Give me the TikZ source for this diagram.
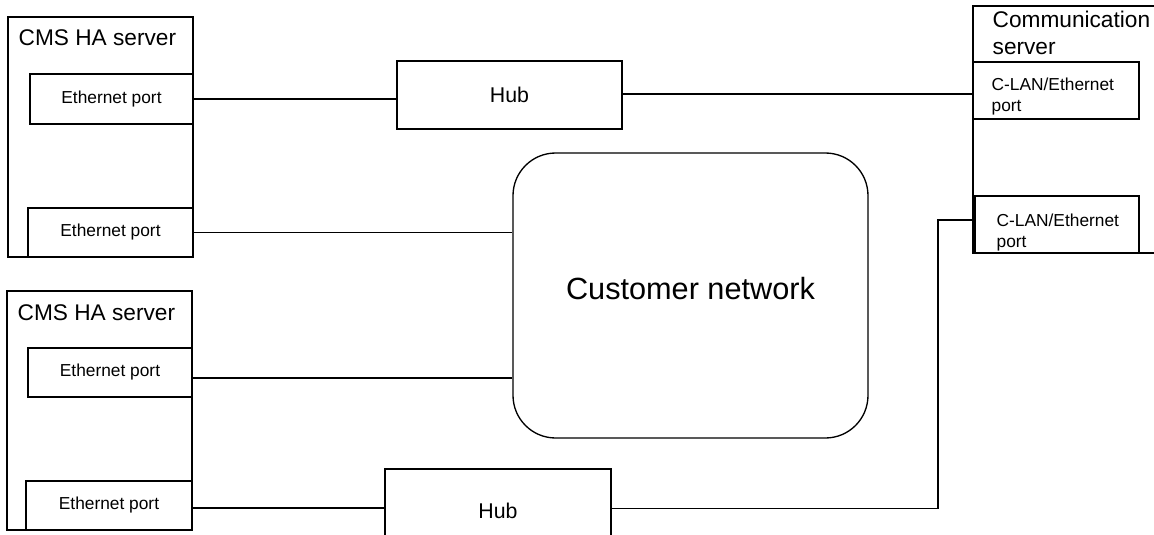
\documentclass[tikz,border=0pt]{standalone}
\usepackage{fontspec}
\setmainfont{Liberation Sans}
\usetikzlibrary{fit}
\begin{document}
\begin{tikzpicture}[x=0.75pt,y=-0.75pt, line width=1pt,
  box/.style={draw, rectangle, inner sep=0pt},
  porttext/.style={font=\fontsize{13pt}{15.6pt}\selectfont},
  titletext/.style={font=\fontsize{17pt}{20.4pt}\selectfont, inner sep=0pt},
  hubtext/.style={font=\fontsize{16pt}{19pt}\selectfont},
  cltext/.style={font=\fontsize{13pt}{15.7pt}\selectfont, align=left, anchor=west, inner sep=0pt}]
\clip (0,0) rectangle (1154,535);
\fill[white] (0,0) rectangle (1154,535);
% top CMS HA server
\node[box, fit={(8,17)(193,257)}] (cms1) {};
\node[titletext, anchor=west] (cms1t) at (18,38) {CMS HA server};
\node[box, fit={(30,74)(193,124)}, label={[porttext]center:Ethernet port}] (p1) {};
\node[box, fit={(28,208)(193,257)}, label={[porttext]center:Ethernet port}] (p2) {};
% bottom CMS HA server
\node[box, fit={(7,291)(192,530)}] (cms2) {};
\node[titletext, anchor=west] (cms2t) at (17,313) {CMS HA server};
\node[box, fit={(28,348)(192,397)}, label={[porttext]center:Ethernet port}] (p3) {};
\node[box, fit={(26,481)(192,530)}, label={[porttext]center:Ethernet port}] (p4) {};
% hubs
\node[box, fit={(397,61)(622,129)}, label={[hubtext]center:Hub}] (hub1) {};
\node[box, fit={(385,469)(611,548)}, label={[hubtext, yshift=-2pt]center:Hub}] (hub2) {};
% customer network
\node[box, rounded corners=32pt, fit={(513,153)(868,438)},
      label={[font=\fontsize{23pt}{27pt}\selectfont, yshift=5.5pt]center:Customer network}] (cn) {};
% communication server
\node[box, fit={(973,6)(1180,253)}] (comm) {};
\node[titletext, align=left, anchor=west] (commt) at (992,33) {Communication\\server};
\node[box, fit={(973,62)(1139,119)}] (c1) {};
\node[cltext] (c1t) at (991,96.5) {C-LAN/Ethernet\\port};
\node[box, fit={(975,196)(1139,253)}] (c2) {};
\node[cltext] (c2t) at (996,232.5) {C-LAN/Ethernet\\port};
% connectors
\coordinate (jx) at (938,0);
\draw (p1.east) -- (p1.east -| hub1.west);
\draw ([yshift=-2.6pt]c1.west -| hub1.east) -- ([yshift=-2.6pt]c1.west);
\draw (p2.east) -- (p2.east -| cn.west);
\draw ([yshift=-4pt]p3.east) -- ([yshift=-4pt]p3.east -| cn.west);
\draw ([yshift=-1.8pt]p4.east) -- ([yshift=-1.8pt]p4.east -| hub2.west);
\draw (hub2.east) -- (hub2.east -| jx) |- ([yshift=3.3pt]c2.west);
\end{tikzpicture}
\end{document}
